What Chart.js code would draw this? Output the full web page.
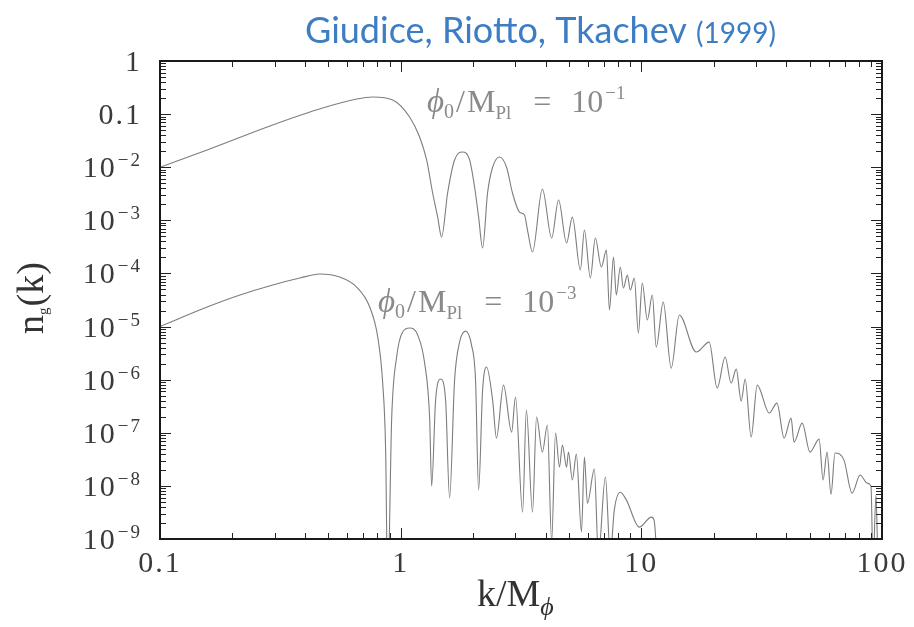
<!DOCTYPE html>
<html>
<head>
<meta charset="utf-8">
<script src="https://cdn.jsdelivr.net/npm/chart.js@4.4.1/dist/chart.umd.min.js"></script>
<style>
  html, body { margin: 0; padding: 0; background: #fff; }
  canvas { display: block; }
</style>
</head>
<body>
<canvas id="chart" width="914" height="627"></canvas>
<script>
// phi0/MPl = 1e-1 curve
const kUpper = [0.1, 0.157, 0.294, 0.474, 0.656, 0.766, 0.927, 1.089, 1.199, 1.282, 1.358, 1.425, 1.479,
  1.567, 1.675, 1.808, 1.934, 2.028, 2.108, 2.19, 2.296, 2.41, 2.576, 2.754, 2.915, 3.117, 3.27, 3.365, 3.53,
  3.88, 4.24, 4.53, 4.89, 5.17, 5.58, 5.80, 6.14, 6.44, 6.82, 7.16, 7.37, 7.66, 7.87, 8.18, 8.42, 8.75, 9.0,
  9.35, 9.72, 10.09, 10.59, 11.11, 11.53, 12.33, 13.31, 14.38, 16.9, 19.14, 20.66, 22.3, 23.6, 24.8, 26.0,
  27.0, 28.6, 30.3, 34.0, 36.6, 39.2, 41.9, 43.1, 46.6, 50.2, 54.8, 56.9, 59.1, 61.4, 63.8, 69.5, 75.1, 81.1,
  86.7, 90.0, 91.8, 94.4, 96.2];
const nUpper = [1.0e-2, 2.11e-2, 6.24e-2, 0.130, 0.192, 0.210, 0.184, 8.82e-2, 3.71e-2, 1.37e-2, 3.27e-3,
  1.15e-3, 4.85e-4, 3.27e-3, 1.37e-2, 1.93e-2, 1.37e-2, 4.24e-3, 1.15e-3, 3.01e-4, 3.27e-3, 1.0e-2, 1.56e-2,
  1.0e-2, 3.27e-3, 1.43e-3, 1.26e-3, 6.57e-4, 2.53e-4, 3.88e-3, 4.64e-4, 2.41e-3, 3.74e-4, 1.15e-3, 1.16e-4,
  6.57e-4, 8.2e-5, 4.64e-4, 1.32e-4, 2.76e-4, 2.05e-5, 2.04e-4, 3.92e-5, 1.32e-4, 5.31e-5, 9.3e-5, 4.87e-5,
  8.2e-5, 7.55e-6, 6.6e-5, 1.33e-5, 3.92e-5, 4.11e-6, 2.89e-5, 1.65e-6, 1.65e-5, 3.31e-6, 5.1e-6, 6.95e-7,
  2.67e-6, 8.63e-7, 1.58e-6, 3.95e-7, 1.03e-6, 8.3e-8, 7.9e-7, 2.35e-7, 3.62e-7, 7.95e-8, 1.89e-7, 6.68e-8,
  1.52e-7, 4.33e-8, 7.6e-8, 1.29e-8, 4.33e-8, 7.0e-9, 4.15e-8, 3.06e-8, 7.3e-9, 1.6e-8, 1.13e-8, 9.9e-9,
  3e-10, 6.7e-9, 3e-10];

// phi0/MPl = 1e-3 curve
const kLower = [0.1, 0.157, 0.215, 0.294, 0.381, 0.461, 0.558, 0.656, 0.744, 0.803, 0.842, 0.866, 0.883,
  0.918, 0.962, 1.019, 1.089, 1.177, 1.258, 1.319, 1.345, 1.397, 1.466, 1.537, 1.597, 1.675, 1.757, 1.861,
  1.97, 2.047, 2.108, 2.19, 2.275, 2.41, 2.50, 2.675, 2.89, 3.0, 3.21, 3.33, 3.53, 3.67, 3.88, 4.07, 4.24,
  4.40, 4.57, 4.70, 4.89, 4.98, 5.17, 5.37, 5.64, 5.80, 5.97, 6.38, 6.63, 7.09, 7.43, 7.72, 8.18, 8.67, 9.81,
  11.0, 11.3, 11.6];
const nLower = [1.0e-5, 2.33e-5, 3.92e-5, 6.05e-5, 8.19e-5, 9.74e-5, 8.55e-5, 5.55e-5, 2.33e-5, 6.34e-6,
  8.63e-7, 4.72e-8, 1e-10, 1.98e-7, 2.67e-6, 7.88e-6, 9.37e-6, 6.92e-6, 2.05e-6, 1.98e-7, 9.9e-9, 4.13e-7,
  1.03e-6, 4.13e-7, 5.9e-9, 9.8e-7, 5.1e-6, 8.2e-6, 4.48e-6, 9.8e-7, 8.3e-9, 6.37e-7, 1.73e-6, 4.13e-7,
  7.95e-8, 7.9e-7, 1.03e-7, 4.7e-7, 3.2e-9, 2.67e-7, 3.2e-9, 1.98e-7, 4.33e-8, 1.4e-7, 9e-10, 9.9e-8,
  2.26e-8, 5.87e-8, 2.26e-8, 4.33e-8, 1.29e-8, 3.97e-8, 1.35e-9, 3.48e-8, 4.7e-9, 2.07e-8, 5e-10, 1.47e-8,
  5e-10, 3.5e-9, 7.6e-9, 5.4e-9, 1.67e-9, 2.58e-9, 2.27e-9, 5e-10];

// axis ticks
const xTickValues = [0.1, 1, 10, 100];
const xTickLabels = ["0.1", "1", "10", "100"];
const yTickValues = [1, 0.1, 1e-2, 1e-3, 1e-4, 1e-5, 1e-6, 1e-7, 1e-8, 1e-9];
const yTickLabels = ["1", "0.1", "10^-2", "10^-3", "10^-4", "10^-5", "10^-6", "10^-7", "10^-8", "10^-9"];

const SERIF = "'Liberation Serif', 'DejaVu Serif', serif";
const SANS = "Lato, 'Open Sans', sans-serif";
const LINE_GREY = "#7d7d7d";

// draw a row of text pieces (size, vertical shift, italic) starting at x
function drawParts(ctx, parts, x, y, align) {
  let total = 0;
  parts.forEach(p => {
    ctx.font = (p.italic ? "italic " : "") + p.size + "px " + (p.family || SERIF);
    p.w = ctx.measureText(p.t).width;
    total += p.w + (p.gap || 0);
  });
  let cx = x;
  if (align === "right") cx = x - total;
  if (align === "center") cx = x - total / 2;
  parts.forEach(p => {
    ctx.font = (p.italic ? "italic " : "") + p.size + "px " + (p.family || SERIF);
    ctx.fillText(p.t, cx, y + (p.dy || 0));
    cx += p.w + (p.gap || 0);
  });
}

function labelParts(label, big, small) {
  if (label.indexOf("^") < 0) return [{ t: label, size: big }];
  const [b, e] = label.split("^");
  return [{ t: b, size: big, gap: 1 }, { t: e.replace("-", "\u2212"), size: small, dy: -11 }];
}

const framePlugin = {
  id: "frame",
  afterDraw(chart) {
    const { ctx, chartArea: { left, right, top, bottom }, scales: { x, y } } = chart;
    ctx.save();
    ctx.strokeStyle = "#222";
    ctx.lineWidth = 1;
    ctx.beginPath();
    // inward ticks on all four sides
    for (let d = -1; d <= 2; d++) {
      for (let m = 1; m <= 9; m++) {
        const v = m * Math.pow(10, d);
        if (v > 100.0001) break;
        const px = Math.round(x.getPixelForValue(v)) + 0.5;
        const len = m === 1 ? 11 : 6;
        ctx.moveTo(px, bottom); ctx.lineTo(px, bottom - len);
        ctx.moveTo(px, top); ctx.lineTo(px, top + len);
      }
    }
    for (let d = -9; d <= 0; d++) {
      for (let m = 1; m <= 9; m++) {
        const v = m * Math.pow(10, d);
        if (v > 1.0001) break;
        const py = Math.round(y.getPixelForValue(v)) + 0.5;
        const len = m === 1 ? 11 : 6;
        ctx.moveTo(left, py); ctx.lineTo(left + len, py);
        ctx.moveTo(right, py); ctx.lineTo(right - len, py);
      }
    }
    ctx.stroke();
    ctx.lineWidth = 2;
    ctx.strokeStyle = "#1a1a1a";
    ctx.strokeRect(left, top, right - left, bottom - top);

    // tick labels
    ctx.fillStyle = "#3a3a3a";
    ctx.textBaseline = "alphabetic";
    ctx.letterSpacing = "2px";
    xTickValues.forEach((v, i) => {
      drawParts(ctx, [{ t: xTickLabels[i], size: 30 }], x.getPixelForValue(v), bottom + 33, "center");
    });
    yTickValues.forEach((v, i) => {
      drawParts(ctx, labelParts(yTickLabels[i], 30, 19), left - 18, y.getPixelForValue(v) + 10, "right");
    });
    ctx.letterSpacing = "0px";

    // curve annotations
    ctx.fillStyle = "#8a8a8a";
    const note = exp => [
      { t: "\u03D5", size: 33, italic: true }, { t: "0", size: 20, dy: 6, gap: 2 },
      { t: "/", size: 32, gap: 2 }, { t: "M", size: 32 }, { t: "Pl", size: 19, dy: 7, gap: 22 },
      { t: "=", size: 32, gap: 20 }, { t: "10", size: 32, gap: 2 }, { t: "\u2212" + exp, size: 19, dy: -13 }
    ];
    drawParts(ctx, note("1"), 427, 112, "left");
    drawParts(ctx, note("3"), 378, 312, "left");

    // axis titles
    ctx.fillStyle = "#333";
    drawParts(ctx, [{ t: "k/M", size: 38 }, { t: "\u03D5", size: 26, italic: true, dy: 9 }], 477, 606, "left");
    ctx.save();
    ctx.translate(43, 298);
    ctx.rotate(-Math.PI / 2);
    drawParts(ctx, [{ t: "n", size: 38 }, { t: "g", size: 15, dy: 5, gap: 1 }, { t: "(k)", size: 38 }], 0, 0, "center");
    ctx.restore();

    // title
    ctx.fillStyle = "#3d7dc4";
    drawParts(ctx, [
      { t: "Giudice, Riotto, Tkachev ", size: 36, family: SANS },
      { t: "(1999)", size: 28, family: SANS }
    ], 305, 43, "left");
    ctx.restore();
  }
};

const toPoints = (ks, ns) => ks.map((k, i) => ({ x: k, y: ns[i] }));

const lineStyle = {
  borderColor: LINE_GREY,
  backgroundColor: LINE_GREY,
  borderWidth: 1.1,
  pointRadius: 0,
  fill: false,
  cubicInterpolationMode: "monotone"
};

new Chart(document.getElementById("chart").getContext("2d"), {
  type: "line",
  data: {
    datasets: [
      { label: "phi0/MPl = 1e-1", data: toPoints(kUpper, nUpper), ...lineStyle },
      { label: "phi0/MPl = 1e-3", data: toPoints(kLower, nLower), ...lineStyle }
    ]
  },
  options: {
    responsive: false,
    animation: false,
    devicePixelRatio: 1,
    layout: { padding: { left: 160, right: 32, top: 61, bottom: 88 } },
    scales: {
      x: { type: "logarithmic", min: 0.1, max: 100, display: false },
      y: { type: "logarithmic", min: 1e-9, max: 1, display: false }
    },
    plugins: { legend: { display: false }, tooltip: { enabled: false } }
  },
  plugins: [framePlugin]
});
</script>
</body>
</html>
